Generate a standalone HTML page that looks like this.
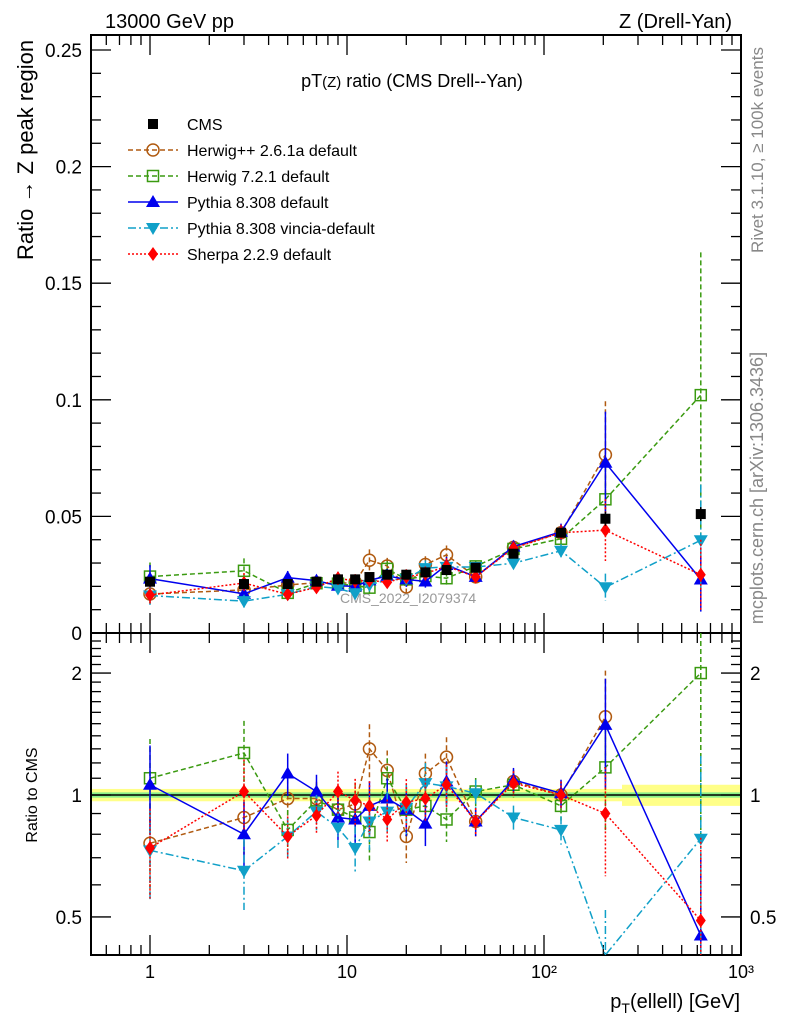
<!DOCTYPE html>
<html><head><meta charset="utf-8">
<style>
html,body{margin:0;padding:0;background:#fff;}
svg{display:block;font-family:"Liberation Sans",sans-serif;}
</style></head>
<body>
<svg id="chart" width="786" height="1024" viewBox="0 0 786 1024" xmlns="http://www.w3.org/2000/svg">
<text x="105" y="28" font-size="20">13000 GeV pp</text>
<text x="732" y="28" font-size="20" text-anchor="end">Z (Drell-Yan)</text>
<text x="412" y="87" font-size="18" text-anchor="middle">pT<tspan font-size="15">(Z)</tspan> ratio (CMS Drell--Yan)</text>
<text transform="translate(33,150) rotate(-90)" font-size="22" text-anchor="middle">Ratio → Z peak region</text>
<text transform="translate(37,795) rotate(-90)" font-size="16" text-anchor="middle">Ratio to CMS</text>
<text transform="translate(763,150) rotate(-90)" font-size="17" fill="#888" text-anchor="middle">Rivet 3.1.10, ≥ 100k events</text>
<text transform="translate(763,488) rotate(-90)" font-size="18" fill="#888" text-anchor="middle">mcplots.cern.ch [arXiv:1306.3436]</text>
<text x="740" y="1008" font-size="20" text-anchor="end">p<tspan font-size="14" dy="5">T</tspan><tspan dy="-5">(ellell) [GeV]</tspan></text>
<text x="340" y="603" font-size="14" fill="#999">CMS_2022_I2079374</text>
<g id="marks"></g>
<g id="legend"></g>
</svg>
<script>
const xs = [1, 3, 5, 7, 9, 11, 13, 16, 20, 25, 32, 45, 70, 122, 205, 625];
const cms = [0.022, 0.021, 0.021, 0.022, 0.023, 0.023, 0.024, 0.025, 0.025, 0.026, 0.027, 0.028, 0.034, 0.043, 0.049, 0.051];
const cmsErr = [0.001, 0.001, 0.001, 0.001, 0.001, 0.001, 0.001, 0.001, 0.001, 0.001, 0.001, 0.001, 0.002, 0.002, 0.003, 0.003];
const herwigpp = [0.76, 0.88, 0.98, 0.98, 0.92, 0.95, 1.30, 1.15, 0.79, 1.13, 1.24, 0.86, 1.08, 1.0, 1.56, null];
const herwig7 = [1.10, 1.27, 0.82, 0.97, 0.92, 0.88, 0.81, 1.10, 0.92, 0.94, 0.87, 1.02, 1.06, 0.94, 1.17, 2.0];
const pythia = [1.06, 0.80, 1.13, 1.02, 0.88, 0.87, 0.94, 0.98, 0.92, 0.85, 1.08, 0.86, 1.09, 1.01, 1.49, 0.45];
const vincia = [0.73, 0.65, 0.79, 0.91, 0.83, 0.74, 0.86, 0.91, 0.93, 1.07, 1.05, 1.01, 0.88, 0.82, 0.40, 0.78];
const sherpa = [0.74, 1.02, 0.79, 0.89, 1.02, 0.97, 0.94, 0.87, 0.96, 0.98, 1.06, 0.86, 1.07, 1.0, 0.90, 0.49];
const relErr = [0.25, 0.20, 0.12, 0.10, 0.12, 0.13, 0.15, 0.12, 0.14, 0.12, 0.12, 0.08, 0.07, 0.08, 0.30, 0.60];
const yTicks = [0, 0.05, 0.1, 0.15, 0.2, 0.25];
const yTickLabels = ["0", "0.05", "0.1", "0.15", "0.2", "0.25"];
const rTicks = [0.5, 1, 2];
const rTickLabels = ["0.5", "1", "2"];
const xTickLabels = ["1", "10", "10²", "10³"];

const L = 91, R = 741, T1 = 35, B1 = 633, T2 = 633, B2 = 955;
const NS = "http://www.w3.org/2000/svg";
const g = document.getElementById('marks');
function X(v){ return 150 + 197 * Math.log10(v); }
function Y(v){ return 633 - 2332 * v; }
function RY(v){ return 795 - 405 * Math.log10(v); }
function mk(tag, attrs, parent){ const e = document.createElementNS(NS, tag); for (const k in attrs) e.setAttribute(k, attrs[k]); (parent || g).appendChild(e); return e; }

const band1 = mk('rect', {x: L, y: RY(1.035), width: 622 - L, height: RY(0.965) - RY(1.035), fill: '#ffff88'});


const band1b = mk('rect', {x: 622, y: RY(1.06), width: R - 622, height: RY(0.94) - RY(1.06), fill: '#ffff88'});


const band2 = mk('rect', {x: L, y: RY(1.015), width: R - L, height: RY(0.985) - RY(1.015), fill: '#88ee88'});


mk('line', {x1: L, x2: R, y1: RY(1), y2: RY(1), stroke: '#000', 'stroke-width': 1.5});

const f1 = mk('rect', {x: L, y: T1, width: R - L, height: B1 - T1, fill: 'none', stroke: '#000', 'stroke-width': 2});


const f2 = mk('rect', {x: L, y: T2, width: R - L, height: B2 - T2, fill: 'none', stroke: '#000', 'stroke-width': 2});



for (let d = 0; d <= 3; d++) {
  for (let m = 1; m < 10; m++) {
    const v = m * Math.pow(10, d - 1);
    const px = X(v);
    if (px < L || px > R) continue;
    const len = m === 1 ? 20 : 10;
    [[B1, -1], [T1, 1], [B2, -1], [T2, 1]].forEach(([yy, s]) => mk('line', {x1: px, x2: px, y1: yy, y2: yy + s * len, stroke: '#000', 'stroke-width': 1.3}));
  }
}
xTickLabels.forEach((t, i) => {
  const tx = mk('text', {x: X(Math.pow(10, i)), y: 978, 'font-size': 18, 'text-anchor': 'middle'});
  
  
  tx.textContent = t;
});
for (let v = 0; v <= 0.2601; v += 0.01) {
  const py = Y(v); if (py < T1) continue;
  const major = Math.abs(v / 0.05 - Math.round(v / 0.05)) < 1e-6;
  const len = major ? 20 : 10;
  mk('line', {x1: L, x2: L + len, y1: py, y2: py, stroke: '#000', 'stroke-width': 1.3});
  mk('line', {x1: R, x2: R - len, y1: py, y2: py, stroke: '#000', 'stroke-width': 1.3});
}
yTicks.forEach((v, i) => {
  const tx = mk('text', {x: 82, y: Y(v) + 7, 'font-size': 19, 'text-anchor': 'end'});
  
  
  tx.textContent = yTickLabels[i];
});
for (let v = 0.4; v <= 2.5; v += 0.1) {
  const py = RY(v); if (py < T2 || py > B2) continue;
  const major = [0.5, 1, 2].some(m => Math.abs(m - v) < 1e-6);
  const len = major ? 20 : 10;
  mk('line', {x1: L, x2: L + len, y1: py, y2: py, stroke: '#000', 'stroke-width': 1.3});
  mk('line', {x1: R, x2: R - len, y1: py, y2: py, stroke: '#000', 'stroke-width': 1.3});
}
rTicks.forEach((v, i) => {
  const t1 = mk('text', {x: 82, y: RY(v) + 7, 'font-size': 19, 'text-anchor': 'end'});
  
  
  t1.textContent = rTickLabels[i];
  const t2 = mk('text', {x: 750, y: RY(v) + 7, 'font-size': 19});
  
  
  t2.textContent = rTickLabels[i];
});

function marker(parent, type, x, y, color, s){
  s = s || 6;
  if (type === 'sq') return mk('rect', {x: x - s, y: y - s, width: 2 * s, height: 2 * s, fill: '#000'}, parent);
  if (type === 'osq') return mk('rect', {x: x - 5.5, y: y - 5.5, width: 11, height: 11, fill: 'none', stroke: color, 'stroke-width': 1.5}, parent);
  if (type === 'oc') return mk('circle', {cx: x, cy: y, r: 6, fill: 'none', stroke: color, 'stroke-width': 1.5}, parent);
  if (type === 'tri') return mk('polygon', {points: `${x},${y - 7} ${x - 7},${y + 5} ${x + 7},${y + 5}`, fill: color}, parent);
  if (type === 'itri') return mk('polygon', {points: `${x},${y + 7} ${x - 7},${y - 5} ${x + 7},${y - 5}`, fill: color}, parent);
  if (type === 'dia') return mk('polygon', {points: `${x},${y - 7} ${x - 5},${y} ${x},${y + 7} ${x + 5},${y}`, fill: color}, parent);
}
const series = [
  {name: 'herwigpp', vals: herwigpp, color: '#b05a10', dash: '5,3', m: 'oc', label: 'Herwig++ 2.6.1a default'},
  {name: 'herwig7', vals: herwig7, color: '#3a9a10', dash: '5,3', m: 'osq', label: 'Herwig 7.2.1 default'},
  {name: 'pythia', vals: pythia, color: '#0000ee', dash: '', m: 'tri', label: 'Pythia 8.308 default'},
  {name: 'vincia', vals: vincia, color: '#10a0c8', dash: '8,3,2,3', m: 'itri', label: 'Pythia 8.308 vincia-default'},
  {name: 'sherpa', vals: sherpa, color: '#ff0000', dash: '2,2', m: 'dia', label: 'Sherpa 2.2.9 default'}
];
function clipR(v){ return Math.min(B2, Math.max(T2, RY(v))); }
series.forEach(s => {
  const gs = mk('g', {});
  
  
  let top = '', bot = '';
  s.vals.forEach((r, i) => {
    if (r == null) return;
    const px = X(xs[i]);
    const v = r * cms[i], e = r * relErr[i];
    top += (top ? 'L' : 'M') + px + ',' + Y(v);
    bot += (bot ? 'L' : 'M') + px + ',' + clipR(r);
    mk('line', {x1: px, x2: px, y1: Y(v + v * relErr[i]), y2: Y(Math.max(0, v - v * relErr[i])), stroke: s.color, 'stroke-width': 1.5, 'stroke-dasharray': s.dash}, gs);
    mk('line', {x1: px, x2: px, y1: clipR(r + e), y2: clipR(r - e), stroke: s.color, 'stroke-width': 1.5, 'stroke-dasharray': s.dash}, gs);
  });
  mk('path', {d: top, fill: 'none', stroke: s.color, 'stroke-width': 1.5, 'stroke-dasharray': s.dash}, gs);
  mk('path', {d: bot, fill: 'none', stroke: s.color, 'stroke-width': 1.5, 'stroke-dasharray': s.dash}, gs);
  s.vals.forEach((r, i) => {
    if (r == null) return;
    const px = X(xs[i]);
    const m1 = marker(gs, s.m, px, Y(r * cms[i]), s.color);
    
    
    if (RY(r) >= T2 && RY(r) <= B2) {
      const m2 = marker(gs, s.m, px, RY(r), s.color);
      
      
    }
  });
});
const gc = mk('g', {});


cms.forEach((v, i) => {
  const px = X(xs[i]);
  mk('line', {x1: px, x2: px, y1: Y(v + cmsErr[i]), y2: Y(v - cmsErr[i]), stroke: '#000', 'stroke-width': 1.5}, gc);
  const m = marker(gc, 'sq', px, Y(v), '#000', 5);
  
  
});

const lg = document.getElementById('legend');
const le0 = mk('g', {}, lg);


marker(le0, 'sq', 153, 124, '#000', 5);
mk('text', {x: 187, y: 130, 'font-size': 16}, le0).textContent = 'CMS';
series.forEach((s, i) => {
  const y = 150 + 26 * i;
  const le = mk('g', {}, lg);
  
  
  mk('line', {x1: 128, x2: 178, y1: y, y2: y, stroke: s.color, 'stroke-width': 1.5, 'stroke-dasharray': s.dash}, le);
  marker(le, s.m, 153, y, s.color);
  mk('text', {x: 187, y: y + 6, 'font-size': 16}, le).textContent = s.label;
});
</script>
</body></html>
